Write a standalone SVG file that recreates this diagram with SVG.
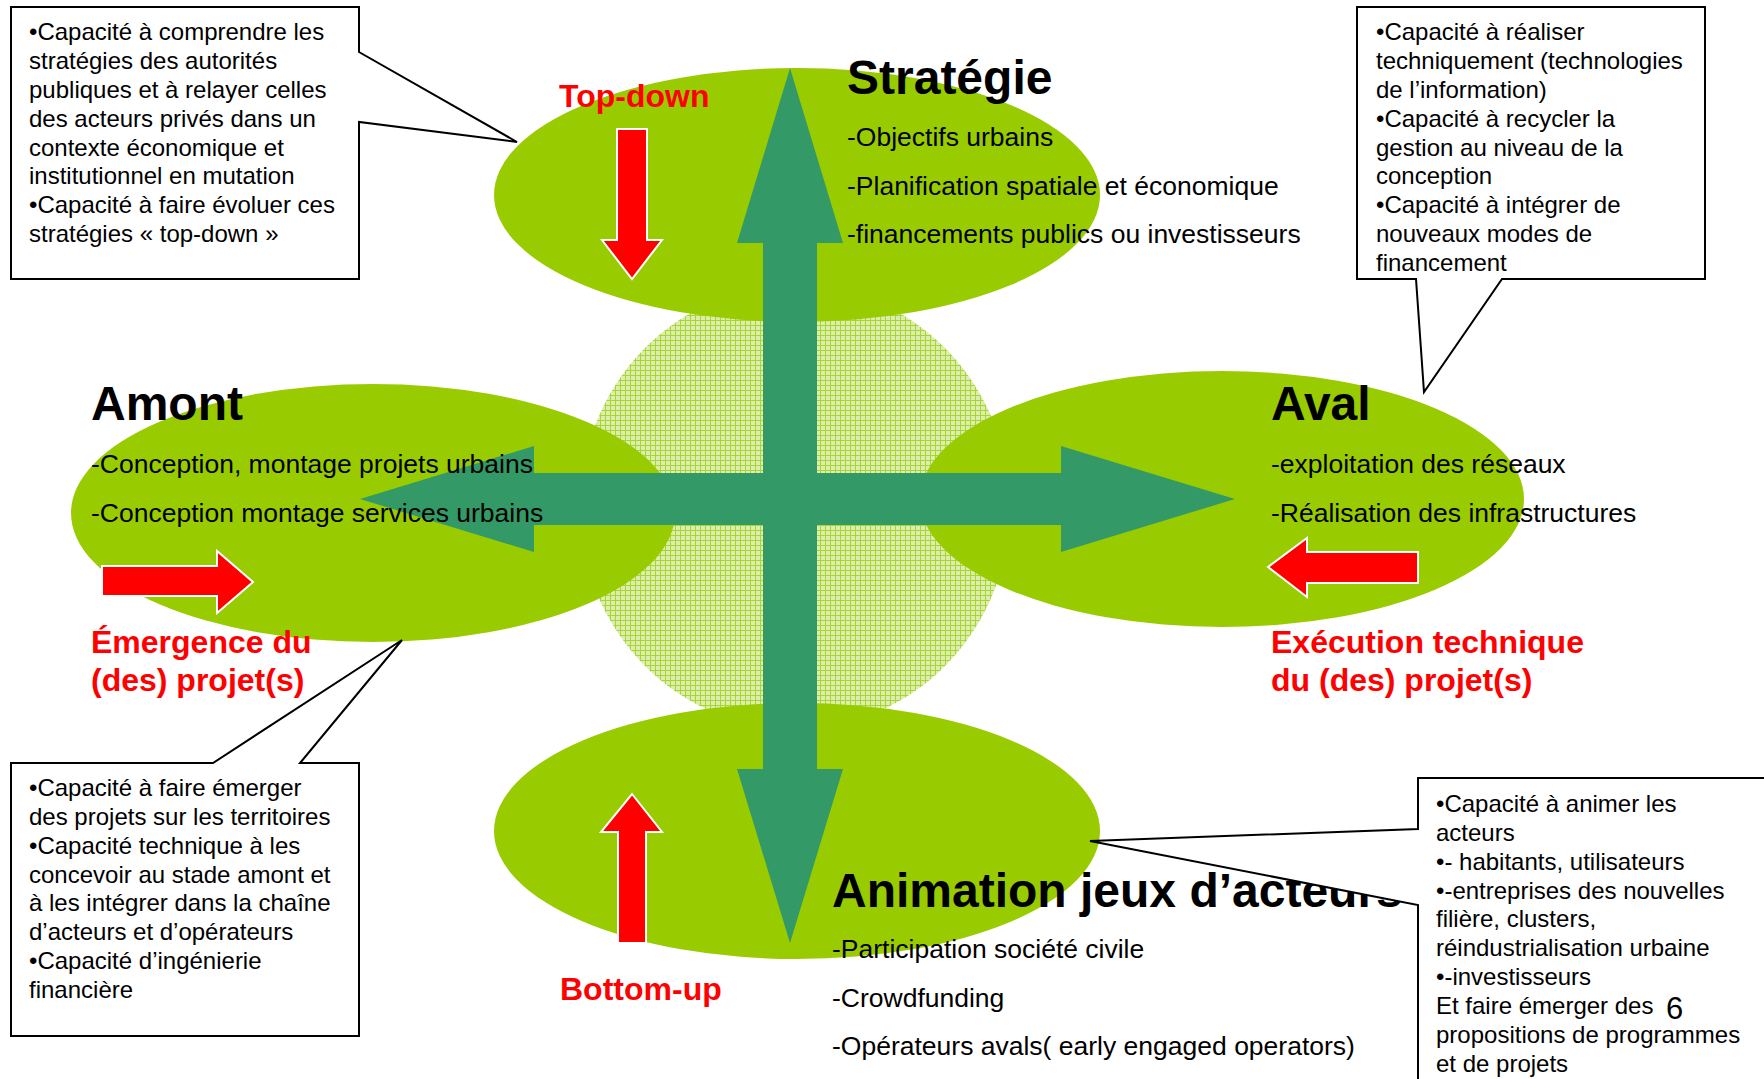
<svg xmlns="http://www.w3.org/2000/svg" width="1764" height="1079" viewBox="0 0 1764 1079">
<defs>
<pattern id="hatch" width="5" height="5" patternUnits="userSpaceOnUse">
<rect width="5" height="5" fill="#dbeeb0"/>
<path d="M0 0.5H5M0.5 0V5" stroke="#a9d431" stroke-width="1"/>
</pattern>
<clipPath id="clipAnim"><rect x="0" y="0" width="1417" height="1079"/></clipPath>
<style>
.ell{fill:#99cc00}
.grn{fill:#339966}
.red{fill:#ff0000;stroke:#ffffff;stroke-width:2}
.ttl{font-family:"Liberation Sans",Arial,sans-serif;font-weight:bold;font-size:48px;fill:#000}
.itm{font-family:"Liberation Sans",Arial,sans-serif;font-size:26.5px;fill:#000}
.lab{font-family:"Liberation Sans",Arial,sans-serif;font-weight:bold;font-size:32px;fill:#ff0000}
.box{fill:#ffffff;stroke:#000;stroke-width:2}
.cap{font-family:"Liberation Sans",Arial,sans-serif;font-size:24px;fill:#000}
</style>
</defs>
<rect width="1764" height="1079" fill="#ffffff"/>

<g id="backdrop">
<ellipse id="center-hatch" cx="795" cy="507" rx="215" ry="222" fill="url(#hatch)"/>
<ellipse id="ell-strategie" class="ell" cx="797" cy="195" rx="303" ry="127"/>
<ellipse id="ell-amont" class="ell" cx="373" cy="513" rx="302" ry="129"/>
<ellipse id="ell-aval" class="ell" cx="1222" cy="499" rx="302" ry="128"/>
<ellipse id="ell-animation" class="ell" cx="797" cy="831" rx="303" ry="128"/>
</g>

<g id="connectors">
<polygon class="grn" points="790,68 843,243 817,243 817,769 843,769 790,943 737,769 763,769 763,243 737,243"/>
<polygon class="grn" points="360,499 534,446 534,473 1061,473 1061,446 1235,499 1061,552 1061,525 534,525 534,552"/>
</g>

<g id="strategie">
<text class="ttl" x="847" y="94">Stratégie</text>
<text class="itm" x="847" y="146">-Objectifs urbains</text>
<text class="itm" x="847" y="195">-Planification spatiale et économique</text>
<text class="itm" x="847" y="243">-financements publics ou investisseurs</text>
<text class="lab" x="559" y="107">Top-down</text>
<polygon class="red" points="617,129 647,129 647,240 662,240 632,279 602,240 617,240"/>
</g>

<g id="amont">
<text class="ttl" x="91" y="420">Amont</text>
<text class="itm" x="91" y="473">-Conception, montage projets urbains</text>
<text class="itm" x="91" y="522">-Conception montage services urbains</text>
<polygon class="red" points="102,566 217,566 217,551 253,582 217,613 217,596 102,596"/>
<text class="lab" x="91" y="653">Émergence du</text>
<text class="lab" x="91" y="691">(des) projet(s)</text>
</g>

<g id="aval">
<text class="ttl" x="1271" y="420">Aval</text>
<text class="itm" x="1271" y="473">-exploitation des réseaux</text>
<text class="itm" x="1271" y="522">-Réalisation des infrastructures</text>
<polygon class="red" points="1268,567 1307,538 1307,552 1418,552 1418,583 1307,583 1307,597"/>
<text class="lab" x="1271" y="653">Exécution technique</text>
<text class="lab" x="1271" y="691">du (des) projet(s)</text>
</g>

<g id="animation">
<text class="ttl" x="832" y="907" clip-path="url(#clipAnim)">Animation jeux d’acteurs</text>
<text class="itm" x="832" y="958">-Participation société civile</text>
<text class="itm" x="832" y="1007">-Crowdfunding</text>
<text class="itm" x="832" y="1055">-Opérateurs avals( early engaged operators)</text>
<polygon class="red" points="632,794 662,832 646,832 646,943 618,943 618,832 601,832"/>
<text class="lab" x="560" y="1000">Bottom-up</text>
</g>

<g id="callout-strategie">
<path class="box" d="M11,7 H359 V52 L517,142 L359,122 V279 H11 Z"/>
<text class="cap" x="29" y="40">•Capacité à comprendre les</text>
<text class="cap" x="29" y="69">stratégies des autorités</text>
<text class="cap" x="29" y="98">publiques et à relayer celles</text>
<text class="cap" x="29" y="127">des acteurs privés dans un</text>
<text class="cap" x="29" y="156">contexte économique et</text>
<text class="cap" x="29" y="184">institutionnel en mutation</text>
<text class="cap" x="29" y="213">•Capacité à faire évoluer ces</text>
<text class="cap" x="29" y="242">stratégies « top-down »</text>
</g>

<g id="callout-aval">
<path class="box" d="M1357,7 H1705 V279 H1502 L1424,392 L1416,279 H1357 Z"/>
<text class="cap" x="1376" y="40">•Capacité à réaliser</text>
<text class="cap" x="1376" y="69">techniquement (technologies</text>
<text class="cap" x="1376" y="98">de l’information)</text>
<text class="cap" x="1376" y="127">•Capacité à recycler la</text>
<text class="cap" x="1376" y="156">gestion au niveau de la</text>
<text class="cap" x="1376" y="184">conception</text>
<text class="cap" x="1376" y="213">•Capacité à intégrer de</text>
<text class="cap" x="1376" y="242">nouveaux modes de</text>
<text class="cap" x="1376" y="271">financement</text>
</g>

<g id="callout-amont">
<path class="box" d="M11,763 H213 L402,640 L300,763 H359 V1036 H11 Z"/>
<text class="cap" x="29" y="796">•Capacité à faire émerger</text>
<text class="cap" x="29" y="825">des projets sur les territoires</text>
<text class="cap" x="29" y="854">•Capacité technique à les</text>
<text class="cap" x="29" y="883">concevoir au stade amont et</text>
<text class="cap" x="29" y="911">à les intégrer dans la chaîne</text>
<text class="cap" x="29" y="940">d’acteurs et d’opérateurs</text>
<text class="cap" x="29" y="969">•Capacité d’ingénierie</text>
<text class="cap" x="29" y="998">financière</text>
</g>

<g id="callout-animation">
<path class="box" d="M1418,778 H1772 V1085 H1418 V905 L1090,841 L1418,829 Z"/>
<text class="cap" x="1436" y="812">•Capacité à animer les</text>
<text class="cap" x="1436" y="841">acteurs</text>
<text class="cap" x="1436" y="870">•- habitants, utilisateurs</text>
<text class="cap" x="1436" y="899">•-entreprises des nouvelles</text>
<text class="cap" x="1436" y="927">filière, clusters,</text>
<text class="cap" x="1436" y="956">réindustrialisation urbaine</text>
<text class="cap" x="1436" y="985">•-investisseurs</text>
<text class="cap" x="1436" y="1014">Et faire émerger des</text>
<text class="cap" x="1436" y="1043">propositions de programmes</text>
<text class="cap" x="1436" y="1072">et de projets</text>
<text x="1666" y="1019" style="font-family:'Liberation Sans',Arial,sans-serif;font-size:31px;fill:#000">6</text>
</g>
</svg>
